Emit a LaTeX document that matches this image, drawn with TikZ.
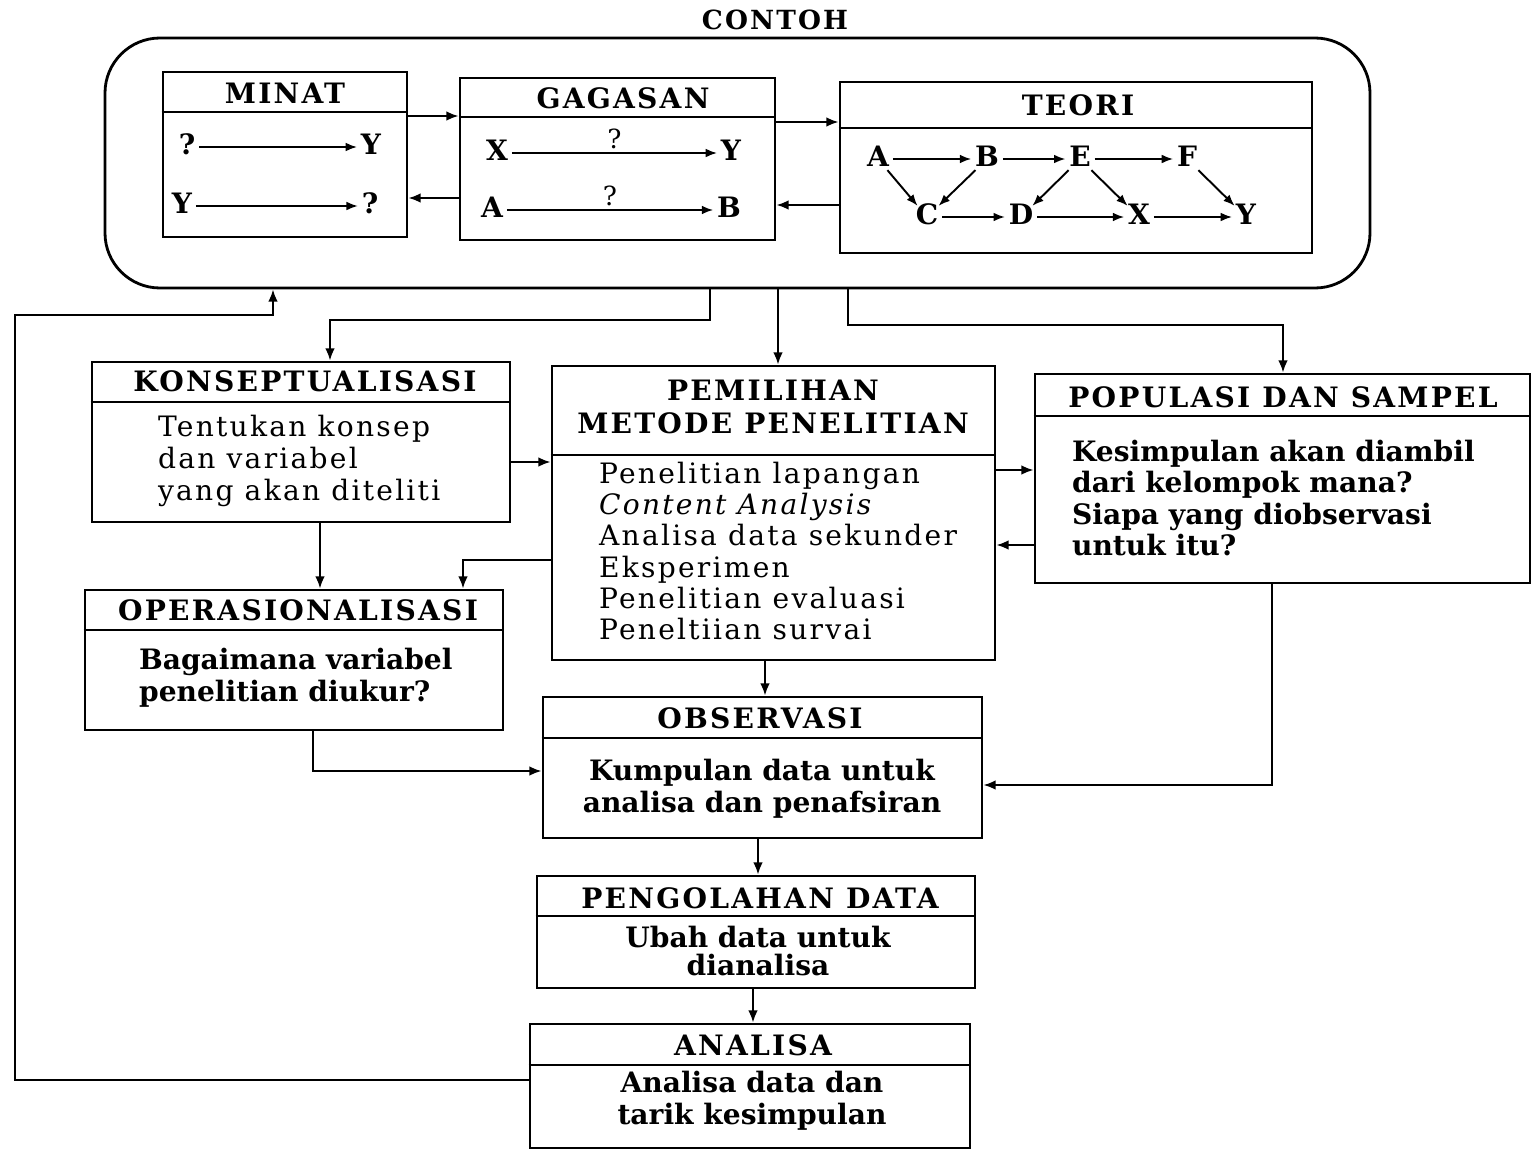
\documentclass[tikz,border=0pt]{standalone}
\usepackage{fontspec}
\setmainfont{DejaVu Serif}
\newfontfamily\widefont[LetterSpace=8]{DejaVu Serif}
\usetikzlibrary{arrows.meta,fit}
\begin{document}
\begin{tikzpicture}[x=0.02cm,y=-0.02cm,
  box/.style={draw,line width=1.6pt,inner sep=0pt,fit={#1}},
  hdr/.style={line width=1.4pt},
  arr/.style={line width=1.2pt,-{Latex[length=7pt,width=5.5pt]}},
  thin/.style={line width=1.1pt,-{Latex[length=6.5pt,width=5pt]}},
  head/.style={font=\widefont\bfseries\fontsize{16}{17}\selectfont,inner sep=1pt},
  body/.style={font=\bfseries\fontsize{16}{18}\selectfont,inner sep=1pt},
  plain/.style={font=\widefont\fontsize{16}{18}\selectfont,inner sep=1pt},
  sym/.style={font=\bfseries\fontsize{16}{17}\selectfont,inner sep=2pt,text height=1.6ex,text depth=0pt}
]
\useasboundingbox[fill=white] (0,0) rectangle (1536,1153);

% title and outer frame
\node[font=\widefont\bfseries\fontsize{15}{16}\selectfont] (title) at (775,20) {CONTOH};
\node[draw,line width=1.6pt,rounded corners=1.1cm,inner sep=0pt,fit={(105,38) (1370,288)}] (frame) {};

% ---------- MINAT ----------
\node[box={(163,72) (407,237)}] (minat) {};
\draw[hdr] (minat.west |- 0,112) -- (minat.east |- 0,112);
\node[head] (minatH) at (285,93) {MINAT};
\node[sym] (m1a) at (187,147) {?};
\node[sym] (m1b) at (371,147) {Y};
\node[sym] (m2a) at (182,206) {Y};
\node[sym] (m2b) at (370,206) {?};
\draw[thin] (m1a) -- (m1b);
\draw[thin] (m2a) -- (m2b);

% ---------- GAGASAN ----------
\node[box={(460,78) (775,240)}] (gagasan) {};
\draw[hdr] (gagasan.west |- 0,117) -- (gagasan.east |- 0,117);
\node[head] (gagasanH) at (623,98) {GAGASAN};
\node[sym] (g1a) at (497,153) {X};
\node[sym] (g1b) at (731,153) {Y};
\node[sym] (g2a) at (492,210) {A};
\node[sym] (g2b) at (729,210) {B};
\draw[thin] (g1a) -- node[above=1pt,font=\fontsize{15}{16}\selectfont,inner sep=1pt] (g1q) {?} (g1b);
\draw[thin] (g2a) -- node[above=1pt,font=\fontsize{15}{16}\selectfont,inner sep=1pt] (g2q) {?} (g2b);

% ---------- TEORI ----------
\node[box={(840,82) (1312,253)}] (teori) {};
\draw[hdr] (teori.west |- 0,128) -- (teori.east |- 0,128);
\node[head] (teoriH) at (1078,105) {TEORI};
\node[sym] (tA) at (878,159) {A};
\node[sym] (tB) at (987,159) {B};
\node[sym] (tE) at (1080,159) {E};
\node[sym] (tF) at (1187,159) {F};
\node[sym] (tC) at (927,217) {C};
\node[sym] (tD) at (1021,217) {D};
\node[sym] (tX) at (1139,217) {X};
\node[sym] (tY) at (1246,217) {Y};
\foreach \a/\b in {tA/tB,tB/tE,tE/tF,tC/tD,tD/tX,tX/tY,tA/tC,tB/tC,tE/tD,tE/tX,tF/tY}
  \draw[thin] (\a) -- (\b);

% links inside the frame
\draw[arr] (minat.east |- 0,116) -- (gagasan.west |- 0,116);
\draw[arr] (gagasan.east |- 0,122) -- (teori.west |- 0,122);
\draw[arr] (gagasan.west |- 0,198) -- (minat.east |- 0,198);
\draw[arr] (teori.west |- 0,205) -- (gagasan.east |- 0,205);

% ---------- KONSEPTUALISASI ----------
\node[box={(92,362) (510,522)}] (kons) {};
\draw[hdr] (kons.west |- 0,402) -- (kons.east |- 0,402);
\node[head] (konsH) at (305,381) {KONSEPTUALISASI};
\node[plain,anchor=west,align=left] (konsB) at (156,461)
  {Tentukan konsep\\dan variabel\\yang akan diteliti};

% ---------- OPERASIONALISASI ----------
\node[box={(85,590) (503,730)}] (oper) {};
\draw[hdr] (oper.west |- 0,630) -- (oper.east |- 0,630);
\node[head] (operH) at (298,610) {OPERASIONALISASI};
\node[body,anchor=west,align=left] (operB) at (137,678)
  {Bagaimana variabel\\penelitian diukur?};

% ---------- PEMILIHAN METODE PENELITIAN ----------
\node[box={(552,366) (995,660)}] (metode) {};
\draw[hdr] (metode.west |- 0,455) -- (metode.east |- 0,455);
\node[head,align=center,font=\widefont\bfseries\fontsize{16}{19}\selectfont] (metodeH) at (773,407)
  {PEMILIHAN\\METODE PENELITIAN};
\node[plain,anchor=west,align=left,font=\widefont\fontsize{16}{17.8}\selectfont] (metodeB) at (597,551)
  {Penelitian lapangan\\\textit{Content Analysis}\\Analisa data sekunder\\Eksperimen\\Penelitian evaluasi\\Peneltiian survai};

% ---------- POPULASI DAN SAMPEL ----------
\node[box={(1035,374) (1530,583)}] (pop) {};
\draw[hdr] (pop.west |- 0,416) -- (pop.east |- 0,416);
\node[head] (popH) at (1283,397) {POPULASI DAN SAMPEL};
\node[body,anchor=west,align=left] (popB) at (1070,498)
  {Kesimpulan akan diambil\\dari kelompok mana?\\Siapa yang diobservasi\\untuk itu?};

% ---------- OBSERVASI ----------
\node[box={(543,697) (982,838)}] (obs) {};
\draw[hdr] (obs.west |- 0,738) -- (obs.east |- 0,738);
\node[head] (obsH) at (760,718) {OBSERVASI};
\node[body,align=center] (obsB) at (762,789)
  {Kumpulan data untuk\\analisa dan penafsiran};

% ---------- PENGOLAHAN DATA ----------
\node[box={(537,876) (975,988)}] (olah) {};
\draw[hdr] (olah.west |- 0,916) -- (olah.east |- 0,916);
\node[head] (olahH) at (760,898) {PENGOLAHAN DATA};
\node[body,align=center,font=\bfseries\fontsize{16}{16}\selectfont] (olahB) at (758,951)
  {Ubah data untuk\\dianalisa};

% ---------- ANALISA ----------
\node[box={(530,1024) (970,1148)}] (anal) {};
\draw[hdr] (anal.west |- 0,1065) -- (anal.east |- 0,1065);
\node[head] (analH) at (753,1045) {ANALISA};
\node[body,align=center] (analB) at (752,1101)
  {Analisa data dan\\tarik kesimpulan};

% ---------- connectors ----------
\draw[arr] (frame.south -| 710,0) -- (710,320) -- (330,320) -- (kons.north -| 330,0);
\draw[arr] (frame.south -| 778,0) -- (metode.north -| 778,0);
\draw[arr] (frame.south -| 848,0) -- (848,325) -- (1283,325) -- (pop.north -| 1283,0);

\draw[arr] (kons.east |- 0,462) -- (metode.west |- 0,462);
\draw[arr] (kons.south -| 320,0) -- (oper.north -| 320,0);
\draw[arr] (metode.west |- 0,560) -- (463,560) -- (oper.north -| 463,0);
\draw[arr] (metode.east |- 0,470) -- (pop.west |- 0,470);
\draw[arr] (pop.west |- 0,545) -- (metode.east |- 0,545);

\draw[arr] (metode.south -| 765,0) -- (obs.north -| 765,0);
\draw[arr] (oper.south -| 313,0) -- (313,771) -- (obs.west |- 0,771);
\draw[arr] (pop.south -| 1272,0) -- (1272,785) -- (obs.east |- 0,785);
\draw[arr] (obs.south -| 758,0) -- (olah.north -| 758,0);
\draw[arr] (olah.south -| 753,0) -- (anal.north -| 753,0);

% feedback from ANALISA back to the frame
\draw[arr] (anal.west |- 0,1080) -- (15,1080) -- (15,315) -- (273,315) -- (frame.south -| 273,0);
\end{tikzpicture}
\end{document}
